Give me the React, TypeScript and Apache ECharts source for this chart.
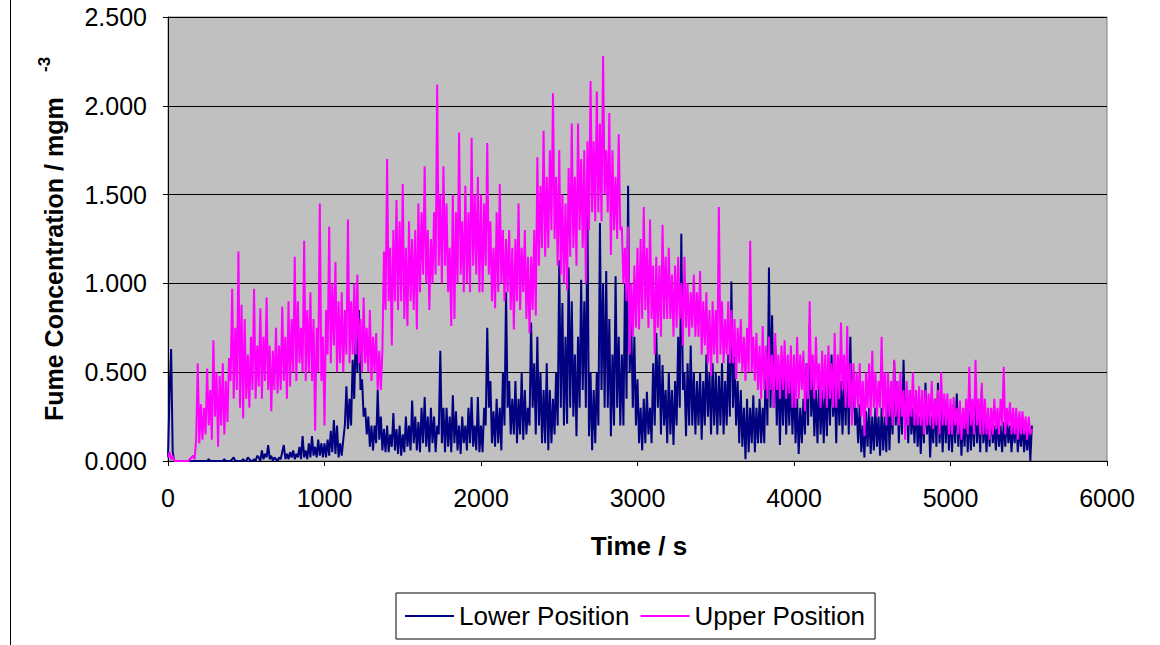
import React, { useEffect, useRef } from "react";
import * as echarts from "echarts";

const TIME_STEP_S = 10;

const lowerPosition = [
  0.02, 0.38, 0.63, 0.05, 0, 0, 0, 0, 0, 0, 0, 0, 0, 0, 0, 0, 0, 0, 0, 0,
  0, 0, 0, 0, 0, 0, 0.01, 0, 0, 0, 0, 0, 0, 0, 0, 0, 0.01, 0, 0, 0,
  0, 0.01, 0.02, 0, 0, 0, 0, 0, 0.01, 0, 0, 0.02, 0.01, 0, 0, 0.01, 0, 0.03, 0.02, 0,
  0.06, 0.01, 0.04, 0.02, 0.09, 0.01, 0.03, 0, 0.02, 0.01, 0, 0.02, 0.01, 0.05, 0.09, 0.01, 0.04, 0.01, 0.05, 0.02,
  0.06, 0.01, 0.04, 0.02, 0.08, 0.01, 0.14, 0.02, 0.06, 0.01, 0.1, 0.02, 0.14, 0.03, 0.08, 0.02, 0.12, 0.03, 0.1, 0.02,
  0.1, 0.02, 0.12, 0.03, 0.17, 0.05, 0.23, 0.04, 0.2, 0.02, 0.1, 0.03, 0.12, 0.2, 0.42, 0.18, 0.35, 0.2, 0.57, 0.35,
  0.74, 0.5, 0.85, 0.4, 0.46, 0.25, 0.3, 0.15, 0.25, 0.08, 0.2, 0.06, 0.2, 0.1, 0.4, 0.12, 0.25, 0.06, 0.18, 0.05,
  0.2, 0.05, 0.15, 0.08, 0.27, 0.06, 0.18, 0.04, 0.2, 0.03, 0.15, 0.05, 0.25, 0.08, 0.2, 0.06, 0.34, 0.1, 0.25, 0.06,
  0.22, 0.05, 0.3, 0.1, 0.36, 0.08, 0.25, 0.05, 0.3, 0.1, 0.25, 0.05, 0.2, 0.15, 0.62, 0.1, 0.3, 0.05, 0.3, 0.08,
  0.25, 0.05, 0.37, 0.1, 0.28, 0.06, 0.2, 0.04, 0.25, 0.1, 0.2, 0.06, 0.3, 0.1, 0.36, 0.08, 0.2, 0.06, 0.36, 0.05,
  0.2, 0.05, 0.3, 0.2, 0.75, 0.3, 0.45, 0.1, 0.28, 0.08, 0.35, 0.1, 0.3, 0.06, 0.5, 0.2, 0.95, 0.3, 0.45, 0.15,
  0.35, 0.15, 0.45, 0.1, 0.35, 0.15, 0.5, 0.12, 0.4, 0.15, 0.3, 0.2, 0.78, 0.3, 0.55, 0.15, 0.7, 0.2, 0.5, 0.1,
  0.4, 0.1, 0.55, 0.06, 0.4, 0.1, 0.35, 0.15, 0.5, 0.2, 1.13, 0.3, 0.89, 0.2, 0.7, 0.21, 1.09, 0.3, 0.9, 0.25,
  0.6, 0.14, 0.7, 0.3, 1.02, 0.4, 0.9, 0.3, 1.45, 0.14, 0.5, 0.06, 0.4, 0.1, 0.5, 0.2, 1.34, 0.4, 1.0, 0.3,
  1.07, 0.3, 0.8, 0.14, 0.6, 0.2, 1.04, 0.3, 0.7, 0.2, 0.6, 0.2, 1.0, 0.35, 1.55, 0.5, 0.8, 0.3, 0.7, 0.2,
  0.46, 0.1, 0.3, 0.06, 0.35, 0.1, 0.39, 0.15, 0.3, 0.1, 0.55, 0.2, 0.72, 0.3, 0.6, 0.15, 0.54, 0.2, 0.4, 0.1,
  0.5, 0.15, 0.4, 0.09, 0.45, 0.2, 0.7, 0.3, 1.28, 0.4, 0.5, 0.14, 0.55, 0.2, 0.65, 0.2, 0.5, 0.15, 0.45, 0.2,
  0.5, 0.12, 0.45, 0.2, 0.6, 0.25, 0.5, 0.15, 0.55, 0.2, 0.5, 0.15, 0.48, 0.2, 0.55, 0.15, 0.45, 0.2, 0.6, 0.25,
  1.01, 0.3, 0.59, 0.2, 0.45, 0.1, 0.4, 0.08, 0.3, 0.01, 0.35, 0.05, 0.3, 0.1, 0.37, 0.05, 0.3, 0.1, 0.35, 0.1,
  0.3, 0.1, 0.6, 0.2, 1.09, 0.3, 0.82, 0.3, 0.65, 0.2, 0.55, 0.09, 0.5, 0.2, 0.55, 0.15, 0.45, 0.2, 0.5, 0.15,
  0.46, 0.1, 0.35, 0.04, 0.3, 0.1, 0.35, 0.15, 0.55, 0.2, 0.77, 0.25, 0.47, 0.14, 0.4, 0.1, 0.45, 0.15, 0.4, 0.1,
  0.45, 0.14, 0.5, 0.2, 0.6, 0.25, 0.45, 0.1, 0.5, 0.2, 0.45, 0.15, 0.5, 0.2, 0.55, 0.15, 0.7, 0.25, 0.5, 0.2,
  0.3, 0.1, 0.32, 0.05, 0.2, 0.02, 0.28, 0.08, 0.3, 0.04, 0.25, 0.06, 0.3, 0.08, 0.25, 0.03, 0.3, 0.06, 0.25, 0.05,
  0.4, 0.06, 0.35, 0.15, 0.56, 0.2, 0.45, 0.1, 0.4, 0.15, 0.57, 0.2, 0.35, 0.1, 0.4, 0.15, 0.3, 0.1, 0.35, 0.08,
  0.25, 0.04, 0.3, 0.1, 0.44, 0.15, 0.3, 0.02, 0.25, 0.1, 0.35, 0.08, 0.44, 0.1, 0.3, 0.05, 0.35, 0.1, 0.3, 0.06,
  0.3, 0.05, 0.32, 0.1, 0.38, 0.08, 0.3, 0.03, 0.25, 0.08, 0.3, 0.05, 0.28, 0.06, 0.3, 0.08, 0.35, 0.1, 0.3, 0.05,
  0.4, 0.1, 0.23, 0.05, 0.25, 0.08, 0.29, 0.1, 0.2, 0.06, 0.25, 0.08, 0.2, 0.05, 0.22, 0.08, 0.25, 0.1, 0.2, 0.05,
  0.22, 0.1, 0.25, 0.05, 0.2, 0.08, 0.22, 0.05, 0.18, 0.06, 0.2, 0, 0.2,
];

const upperPosition = [
  0.02, 0.05, 0.01, 0.03, 0, 0, 0, 0, 0, 0, 0, 0, 0, 0, 0.01, 0.02, 0.03, 0.01, 0.12, 0.55,
  0.1, 0.32, 0.12, 0.3, 0.15, 0.52, 0.2, 0.4, 0.12, 0.68, 0.25, 0.5, 0.08, 0.48, 0.2, 0.55, 0.15, 0.45, 0.22, 0.58,
  0.45, 0.97, 0.35, 0.75, 0.4, 1.18, 0.3, 0.88, 0.24, 0.8, 0.35, 0.6, 0.3, 0.7, 0.4, 0.97, 0.35, 0.65, 0.42, 0.86,
  0.35, 0.7, 0.45, 0.92, 0.4, 0.65, 0.28, 0.62, 0.4, 0.75, 0.38, 0.65, 0.4, 0.87, 0.45, 0.7, 0.35, 0.9, 0.42, 0.8,
  0.5, 1.15, 0.45, 0.9, 0.55, 0.75, 0.5, 1.24, 0.45, 0.85, 0.5, 0.95, 0.45, 0.8, 0.17, 0.75, 0.5, 1.45, 0.45, 0.7,
  0.2, 0.85, 0.6, 1.32, 0.55, 1.0, 0.65, 1.12, 0.5, 0.9, 0.55, 0.95, 0.5, 0.85, 0.6, 1.36, 0.55, 0.9, 0.6, 1.0,
  0.6, 1.05, 0.55, 0.8, 0.5, 0.92, 0.55, 0.75, 0.5, 0.85, 0.45, 0.7, 0.5, 0.72, 0.4, 0.62, 0.4, 0.62, 1.18, 0.85,
  1.7, 0.9, 1.2, 0.65, 1.3, 0.9, 1.47, 0.85, 1.35, 0.9, 1.56, 0.8, 1.2, 0.76, 1.35, 0.9, 1.25, 0.85, 1.3, 0.74,
  1.45, 0.95, 1.4, 1.05, 1.66, 1.0, 1.3, 0.85, 1.25, 1.0, 1.4, 1.05, 2.12, 1.1, 1.5, 1.0, 1.66, 1.1, 1.45, 0.95,
  1.2, 0.76, 1.5, 0.8, 1.4, 1.0, 1.85, 1.05, 1.35, 0.95, 1.55, 1.0, 1.4, 0.95, 1.82, 1.1, 1.5, 1.05, 1.6, 0.95,
  1.5, 0.95, 1.45, 1.1, 1.79, 1.05, 1.35, 0.9, 1.2, 0.86, 1.4, 0.95, 1.56, 1.0, 1.3, 0.9, 1.25, 0.95, 1.3, 0.85,
  1.2, 0.74, 1.25, 0.9, 1.45, 0.85, 1.2, 0.95, 1.3, 0.8, 1.15, 0.72, 1.15, 0.85, 1.3, 0.82, 1.71, 1.1, 1.55, 1.2,
  1.86, 1.15, 1.6, 1.2, 1.75, 1.3, 2.07, 1.25, 1.6, 1.1, 1.75, 1.05, 1.5, 1.0, 1.45, 0.96, 1.65, 1.15, 1.9, 1.2,
  1.6, 1.1, 1.9, 1.3, 1.7, 1.2, 1.75, 1.0, 1.8, 1.3, 2.14, 1.4, 1.8, 1.35, 2.08, 1.4, 1.9, 1.35, 2.28, 1.5,
  1.75, 1.4, 1.96, 1.16, 1.75, 1.3, 1.6, 1.25, 1.84, 1.3, 1.32, 1.0, 1.2, 0.9, 1.32, 0.6, 1.0, 0.7, 1.1, 0.75,
  1.2, 0.74, 1.25, 0.8, 1.43, 0.85, 1.2, 0.75, 1.36, 0.8, 1.1, 0.6, 1.15, 0.75, 1.1, 0.7, 1.33, 0.8, 1.15, 0.8,
  1.2, 0.8, 1.05, 0.7, 1.1, 0.75, 1.15, 0.8, 1.0, 0.65, 1.15, 0.75, 1.0, 0.7, 0.95, 0.75, 1.05, 0.7, 0.95, 0.7,
  1.07, 0.6, 0.9, 0.65, 0.95, 0.55, 0.85, 0.48, 0.9, 0.6, 0.85, 0.55, 1.43, 0.6, 0.9, 0.55, 0.8, 0.6, 0.9, 0.55,
  0.85, 0.55, 0.8, 0.46, 0.75, 0.55, 0.8, 0.5, 0.7, 0.45, 0.75, 0.5, 1.24, 0.5, 0.7, 0.45, 0.72, 0.4, 0.65, 0.35,
  0.76, 0.4, 0.65, 0.35, 0.7, 0.4, 0.6, 0.3, 0.72, 0.4, 0.6, 0.35, 0.65, 0.4, 0.68, 0.35, 0.6, 0.38, 0.65, 0.3,
  0.6, 0.3, 0.7, 0.35, 0.6, 0.4, 0.62, 0.28, 0.55, 0.35, 0.9, 0.4, 0.6, 0.35, 0.7, 0.4, 0.55, 0.3, 0.62, 0.35,
  0.6, 0.3, 0.65, 0.35, 0.55, 0.3, 0.72, 0.3, 0.6, 0.35, 0.78, 0.4, 0.6, 0.3, 0.76, 0.3, 0.55, 0.2, 0.55, 0.3,
  0.5, 0.3, 0.55, 0.25, 0.45, 0.14, 0.5, 0.3, 0.55, 0.25, 0.62, 0.3, 0.5, 0.25, 0.45, 0.3, 0.7, 0.25, 0.5, 0.2,
  0.5, 0.25, 0.45, 0.2, 0.57, 0.25, 0.45, 0.2, 0.5, 0.25, 0.4, 0.12, 0.45, 0.2, 0.4, 0.25, 0.5, 0.2, 0.4, 0.2,
  0.42, 0.2, 0.4, 0.15, 0.4, 0.2, 0.38, 0.2, 0.45, 0.18, 0.35, 0.2, 0.4, 0.15, 0.5, 0.2, 0.38, 0.2, 0.38, 0.15,
  0.35, 0.15, 0.36, 0.2, 0.3, 0.15, 0.34, 0.12, 0.3, 0.18, 0.35, 0.15, 0.53, 0.2, 0.35, 0.15, 0.57, 0.2, 0.35, 0.15,
  0.44, 0.15, 0.35, 0.15, 0.3, 0.12, 0.3, 0.15, 0.35, 0.18, 0.3, 0.15, 0.35, 0.2, 0.53, 0.15, 0.3, 0.2, 0.33, 0.15,
  0.3, 0.15, 0.3, 0.12, 0.28, 0.15, 0.28, 0.15, 0.25, 0.12, 0.25, 0.15, 0.18,
];

const seriesNames = ["Lower Position", "Upper Position"];
const X_MIN = 0;
const X_MAX = 6000;
const X_INTERVAL = 1000;
const Y_MIN = 0;
const Y_MAX = 2.5;
const Y_INTERVAL = 0.5;

const FONT = "'Liberation Sans', Arial, sans-serif";

export default function App() {
  const ref = useRef<HTMLDivElement>(null);

  useEffect(() => {
    if (!ref.current) return;
    const chart = echarts.init(ref.current, undefined, { renderer: "svg" });

    const toPairs = (arr: number[]) => arr.map((v, i) => [i * TIME_STEP_S, v]);

    const option: any = {
      animation: false,
      backgroundColor: "#ffffff",
      grid: {
        left: 168,
        top: 17,
        width: 939,
        height: 444,
        show: true,
        backgroundColor: "#C0C0C0",
        borderColor: "#808080",
        borderWidth: 1,
        containLabel: false,
      },
      xAxis: {
        type: "value",
        min: X_MIN,
        max: X_MAX,
        interval: X_INTERVAL,
        axisLine: { show: true, onZero: false, lineStyle: { color: "#000", width: 1 } },
        axisTick: { show: true, inside: false, length: 5, lineStyle: { color: "#000" } },
        axisLabel: {
          color: "#000",
          fontSize: 25,
          fontFamily: FONT,
          margin: 24,
          formatter: (v: number) => String(v),
        },
        splitLine: { show: false },
      },
      yAxis: {
        type: "value",
        min: Y_MIN,
        max: Y_MAX,
        interval: Y_INTERVAL,
        axisLine: { show: true, lineStyle: { color: "#000", width: 1 } },
        axisTick: { show: true, inside: false, length: 5, lineStyle: { color: "#000" } },
        axisLabel: {
          color: "#000",
          fontSize: 25,
          fontFamily: FONT,
          margin: 21,
          formatter: (v: number) => v.toFixed(3),
        },
        splitLine: { show: true, lineStyle: { color: "#000", width: 1 } },
      },
      legend: {
        data: seriesNames,
        left: 396,
        top: 593,
        orient: "horizontal",
        icon: "rect",
        itemWidth: 49,
        itemHeight: 2,
        itemGap: 11,
        padding: [10, 10, 10, 9],
        borderColor: "#000",
        borderWidth: 1,
        backgroundColor: "#fff",
        textStyle: { color: "#000", fontSize: 26, fontFamily: FONT },
      },
      graphic: [
        {
          type: "rect",
          left: 8,
          top: -10,
          shape: { width: 1150, height: 670 },
          style: { fill: "none", stroke: "#000", lineWidth: 1 },
          silent: true,
          z: -10,
        },
        {
          type: "text",
          x: 639,
          y: 546,
          style: {
            text: "Time / s",
            font: `bold 26px ${FONT}`,
            fill: "#000",
            textAlign: "center",
            textVerticalAlign: "middle",
          },
        },
        {
          type: "group",
          x: 54,
          y: 421,
          rotation: Math.PI / 2,
          children: [
            {
              type: "text",
              x: 0,
              y: 0,
              style: {
                text: "Fume Concentration / mgm",
                font: `bold 25px ${FONT}`,
                fill: "#000",
                textAlign: "left",
                textVerticalAlign: "middle",
              },
            },
            {
              type: "text",
              x: 349,
              y: -10,
              style: {
                text: "-3",
                font: `bold 17px ${FONT}`,
                fill: "#000",
                textAlign: "left",
                textVerticalAlign: "middle",
              },
            },
          ],
        },
      ],
      series: [
        {
          name: seriesNames[0],
          type: "line",
          data: toPairs(lowerPosition),
          showSymbol: false,
          symbol: "none",
          color: "#000080",
          lineStyle: { color: "#000080", width: 2 },
          z: 2,
        },
        {
          name: seriesNames[1],
          type: "line",
          data: toPairs(upperPosition),
          showSymbol: false,
          symbol: "none",
          color: "#FF00FF",
          lineStyle: { color: "#FF00FF", width: 2 },
          z: 3,
        },
      ],
    };

    chart.setOption(option);
    return () => chart.dispose();
  }, []);

  return (
    <div
      ref={ref}
      style={{ position: "absolute", left: 0, top: 0, width: 1160, height: 645 }}
    />
  );
}
